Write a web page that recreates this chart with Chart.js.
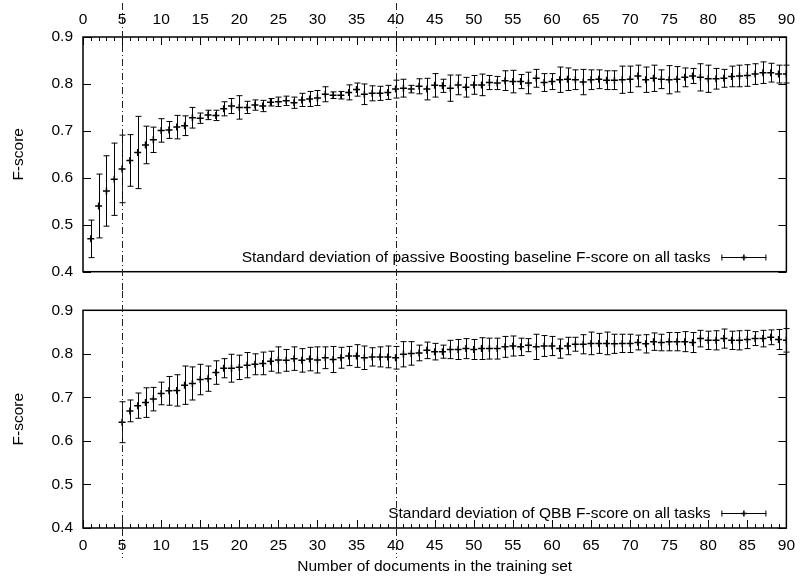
<!DOCTYPE html>
<html>
<head>
<meta charset="utf-8">
<script src="https://cdn.jsdelivr.net/npm/chart.js@4.4.0/dist/chart.umd.min.js"></script>
<style>
  html, body { margin: 0; padding: 0; background: #fff; }
  #wrap { position: relative; width: 803px; height: 577px; }
  #topBox { position: absolute; left: 0; top: 0; width: 803px; height: 291px; }
  #botBox { position: absolute; left: 0; top: 291px; width: 803px; height: 286px; }
</style>
</head>
<body>
<div id="wrap">
  <div id="topBox"><canvas id="topChart"></canvas></div>
  <div id="botBox"><canvas id="botChart"></canvas></div>
</div>
<script>
/* Data */
const xTicks = [0, 5, 10, 15, 20, 25, 30, 35, 40, 45, 50, 55, 60, 65, 70, 75, 80, 85, 90];
const yTicks = [0.4, 0.5, 0.6, 0.7, 0.8, 0.9];
const markers = [5, 40]; // dash-dot vertical lines

// passive Boosting baseline
const baseDocs = [1, 2, 3, 4, 5, 6, 7, 8, 9, 10, 11, 12, 13, 14, 15, 16, 17, 18, 19, 20,
  21, 22, 23, 24, 25, 26, 27, 28, 29, 30, 31, 32, 33, 34, 35, 36, 37, 38, 39, 40,
  41, 42, 43, 44, 45, 46, 47, 48, 49, 50, 51, 52, 53, 54, 55, 56, 57, 58, 59, 60,
  61, 62, 63, 64, 65, 66, 67, 68, 69, 70, 71, 72, 73, 74, 75, 76, 77, 78, 79, 80,
  81, 82, 83, 84, 85, 86, 87, 88, 89, 90];
const baseMean = [0.470, 0.540, 0.572, 0.597, 0.619, 0.637, 0.654, 0.670, 0.681, 0.701,
  0.702, 0.708, 0.711, 0.728, 0.727, 0.734, 0.733, 0.747, 0.753, 0.750,
  0.750, 0.755, 0.753, 0.761, 0.762, 0.764, 0.760, 0.766, 0.768, 0.770,
  0.778, 0.776, 0.776, 0.782, 0.788, 0.778, 0.780, 0.780, 0.782, 0.789,
  0.791, 0.789, 0.795, 0.789, 0.797, 0.796, 0.791, 0.798, 0.793, 0.798,
  0.798, 0.803, 0.802, 0.807, 0.805, 0.805, 0.802, 0.812, 0.803, 0.805,
  0.809, 0.810, 0.809, 0.804, 0.809, 0.810, 0.808, 0.808, 0.809, 0.810,
  0.817, 0.809, 0.812, 0.810, 0.809, 0.810, 0.814, 0.817, 0.814, 0.811,
  0.811, 0.812, 0.816, 0.817, 0.818, 0.821, 0.824, 0.824, 0.821, 0.821];
const baseStd = [0.040, 0.068, 0.075, 0.077, 0.072, 0.055, 0.077, 0.040, 0.027, 0.025,
  0.018, 0.025, 0.021, 0.022, 0.011, 0.010, 0.011, 0.015, 0.016, 0.025,
  0.013, 0.011, 0.012, 0.008, 0.010, 0.010, 0.012, 0.014, 0.016, 0.016,
  0.016, 0.007, 0.008, 0.016, 0.014, 0.022, 0.016, 0.015, 0.015, 0.019,
  0.019, 0.008, 0.016, 0.023, 0.025, 0.014, 0.028, 0.021, 0.021, 0.020,
  0.023, 0.015, 0.014, 0.021, 0.024, 0.015, 0.023, 0.019, 0.019, 0.017,
  0.027, 0.024, 0.021, 0.027, 0.021, 0.020, 0.020, 0.020, 0.029, 0.028,
  0.023, 0.027, 0.028, 0.020, 0.030, 0.027, 0.020, 0.016, 0.029, 0.029,
  0.022, 0.019, 0.022, 0.023, 0.023, 0.022, 0.023, 0.020, 0.019, 0.019];

// QBB
const qbbDocs = [5, 6, 7, 8, 9, 10, 11, 12, 13, 14, 15, 16, 17, 18, 19, 20,
  21, 22, 23, 24, 25, 26, 27, 28, 29, 30, 31, 32, 33, 34, 35, 36, 37, 38, 39, 40,
  41, 42, 43, 44, 45, 46, 47, 48, 49, 50, 51, 52, 53, 54, 55, 56, 57, 58, 59, 60,
  61, 62, 63, 64, 65, 66, 67, 68, 69, 70, 71, 72, 73, 74, 75, 76, 77, 78, 79, 80,
  81, 82, 83, 84, 85, 86, 87, 88, 89, 90];
const qbbMean = [0.643, 0.669, 0.681, 0.688, 0.696, 0.709, 0.715, 0.716, 0.728, 0.732,
  0.741, 0.743, 0.757, 0.767, 0.767, 0.769, 0.774, 0.776, 0.778, 0.783,
  0.786, 0.785, 0.789, 0.785, 0.788, 0.786, 0.791, 0.787, 0.791, 0.795,
  0.795, 0.791, 0.793, 0.793, 0.793, 0.791, 0.799, 0.801, 0.802, 0.808,
  0.805, 0.805, 0.810, 0.810, 0.812, 0.810, 0.812, 0.812, 0.812, 0.816,
  0.818, 0.816, 0.820, 0.816, 0.818, 0.818, 0.812, 0.818, 0.822, 0.822,
  0.824, 0.824, 0.824, 0.823, 0.824, 0.824, 0.826, 0.823, 0.828, 0.826,
  0.828, 0.828, 0.828, 0.826, 0.835, 0.831, 0.831, 0.835, 0.831, 0.831,
  0.833, 0.835, 0.835, 0.838, 0.833, 0.831];
const qbbStd = [0.047, 0.025, 0.029, 0.034, 0.027, 0.026, 0.033, 0.036, 0.044, 0.038,
  0.035, 0.029, 0.027, 0.022, 0.032, 0.028, 0.029, 0.024, 0.026, 0.023,
  0.030, 0.025, 0.027, 0.027, 0.027, 0.030, 0.025, 0.030, 0.024, 0.022,
  0.026, 0.027, 0.021, 0.023, 0.025, 0.026, 0.029, 0.027, 0.018, 0.019,
  0.019, 0.015, 0.021, 0.023, 0.023, 0.023, 0.025, 0.024, 0.024, 0.024,
  0.023, 0.020, 0.015, 0.029, 0.024, 0.022, 0.022, 0.020, 0.016, 0.022,
  0.026, 0.023, 0.026, 0.022, 0.021, 0.021, 0.017, 0.021, 0.020, 0.019,
  0.021, 0.021, 0.023, 0.023, 0.019, 0.021, 0.022, 0.022, 0.021, 0.022,
  0.021, 0.016, 0.019, 0.017, 0.023, 0.027];

const baseLabel = 'Standard deviation of passive Boosting baseline F-score on all tasks';
const qbbLabel = 'Standard deviation of QBB F-score on all tasks';

const FONT = 'Liberation Sans, Arial, Helvetica, sans-serif';
const FONT_SIZE = 15.5;

// error bars, box, inward ticks, dash-dot markers and the gnuplot style key
const gnuplotLook = {
  id: 'gnuplotLook',
  beforeDatasetsDraw(chart) {
    const ds = chart.data.datasets[0];
    const xs = chart.scales.x, ys = chart.scales.y;
    const ctx = chart.ctx;
    ctx.save();
    ctx.strokeStyle = '#000';
    ctx.lineWidth = 1;
    ds.data.forEach((p, i) => {
      const px = Math.round(xs.getPixelForValue(p.x)) + 0.5;
      const lo = ys.getPixelForValue(p.y - ds.errors[i]);
      const hi = ys.getPixelForValue(p.y + ds.errors[i]);
      ctx.beginPath();
      ctx.moveTo(px, lo); ctx.lineTo(px, hi);
      ctx.moveTo(px - 3, lo); ctx.lineTo(px + 3, lo);
      ctx.moveTo(px - 3, hi); ctx.lineTo(px + 3, hi);
      ctx.stroke();
    });
    ctx.restore();
  },
  afterDraw(chart, args, opts) {
    const { ctx, chartArea: a } = chart;
    const xs = chart.scales.x, ys = chart.scales.y;
    ctx.save();

    // x ticks, pointing inwards on the labelled side
    ctx.strokeStyle = '#000';
    ctx.lineWidth = 1;
    const edge = opts.side === 'top' ? a.top : a.bottom;
    const dir = opts.side === 'top' ? 1 : -1;
    ctx.beginPath();
    for (let v = xs.min; v <= xs.max; v++) {
      const px = Math.round(xs.getPixelForValue(v)) + 0.5;
      const len = v % 5 === 0 ? 8 : 4;
      ctx.moveTo(px, edge);
      ctx.lineTo(px, edge + dir * len);
    }
    // y ticks on both sides
    yTicks.forEach(v => {
      const py = Math.round(ys.getPixelForValue(v)) + 0.5;
      ctx.moveTo(a.left, py); ctx.lineTo(a.left + 8, py);
      ctx.moveTo(a.right - 8, py); ctx.lineTo(a.right, py);
    });
    ctx.stroke();

    // box
    ctx.lineWidth = 1.5;
    ctx.strokeRect(a.left, a.top, a.right - a.left, a.bottom - a.top);

    // dash-dot markers
    ctx.lineWidth = 1;
    ctx.strokeStyle = '#222';
    ctx.setLineDash([7, 3, 1, 3]);
    markers.forEach(m => {
      const px = Math.round(xs.getPixelForValue(m)) + 0.5;
      ctx.beginPath();
      ctx.moveTo(px, opts.lineFrom);
      ctx.lineTo(px, opts.lineTo);
      ctx.stroke();
    });
    ctx.setLineDash([]);

    // key
    const ky = Math.round(a.bottom - 15) + 0.5;
    ctx.fillStyle = '#000';
    ctx.font = FONT_SIZE + 'px ' + FONT;
    ctx.textAlign = 'right';
    ctx.textBaseline = 'middle';
    ctx.fillText(opts.label, a.right - 76, ky);
    ctx.strokeStyle = '#000';
    const x0 = a.right - 65, x1 = a.right - 20, xm = (x0 + x1) / 2;
    ctx.beginPath();
    ctx.moveTo(x0, ky); ctx.lineTo(x1, ky);
    ctx.moveTo(x0 + 0.5, ky - 3); ctx.lineTo(x0 + 0.5, ky + 3);
    ctx.moveTo(x1 - 0.5, ky - 3); ctx.lineTo(x1 - 0.5, ky + 3);
    ctx.stroke();
    ctx.lineWidth = 1.5;
    ctx.beginPath();
    ctx.moveTo(xm, ky - 3); ctx.lineTo(xm, ky + 3);
    ctx.moveTo(xm - 3, ky); ctx.lineTo(xm + 3, ky);
    ctx.stroke();
    ctx.restore();
  }
};

function makeChart(id, docs, mean, std, label, side, lineFrom, lineTo) {
  const points = docs.map((d, i) => ({ x: d, y: mean[i] }));
  const isTop = side === 'top';
  return new Chart(document.getElementById(id), {
    type: 'scatter',
    data: {
      datasets: [{
        label: label,
        data: points,
        errors: std,
        pointStyle: 'cross',
        pointRadius: 3.5,
        borderColor: '#000',
        backgroundColor: '#000',
        borderWidth: 1.5
      }]
    },
    options: {
      responsive: true,
      maintainAspectRatio: false,
      animation: false,
      events: [],
      layout: { padding: isTop ? { top: 0, right: 11, bottom: 19, left: 0 } : { top: 19, right: 11, bottom: 0, left: 0 } },
      scales: {
        x: {
          type: 'linear',
          position: side,
          min: 0,
          max: 90,
          afterBuildTicks: s => { s.ticks = xTicks.map(v => ({ value: v })); },
          afterFit: s => { s.height = isTop ? 37 : 49; },
          grid: { display: false, drawTicks: false },
          border: { display: false },
          ticks: { autoSkip: false, maxRotation: 0, padding: 8, color: '#000', font: { family: FONT, size: FONT_SIZE } },
          title: {
            display: !isTop,
            text: 'Number of documents in the training set',
            color: '#000',
            font: { family: FONT, size: FONT_SIZE },
            padding: { top: 0, bottom: 1 }
          }
        },
        y: {
          min: 0.4,
          max: 0.9,
          afterBuildTicks: s => { s.ticks = yTicks.map(v => ({ value: v })); },
          afterFit: s => { s.width = 83; },
          grid: { display: false, drawTicks: false },
          border: { display: false },
          ticks: { padding: 10, color: '#000', font: { family: FONT, size: FONT_SIZE }, callback: v => v.toFixed(1) },
          title: {
            display: true,
            text: 'F-score',
            color: '#000',
            font: { family: FONT, size: FONT_SIZE },
            padding: { top: 9, bottom: 0 }
          }
        }
      },
      plugins: {
        legend: { display: false },
        tooltip: { enabled: false },
        gnuplotLook: { side: side, label: label, lineFrom: lineFrom, lineTo: lineTo }
      }
    },
    plugins: [gnuplotLook]
  });
}

makeChart('topChart', baseDocs, baseMean, baseStd, baseLabel, 'top', 3, 291);
makeChart('botChart', qbbDocs, qbbMean, qbbStd, qbbLabel, 'bottom', 0, 267);
</script>
</body>
</html>
